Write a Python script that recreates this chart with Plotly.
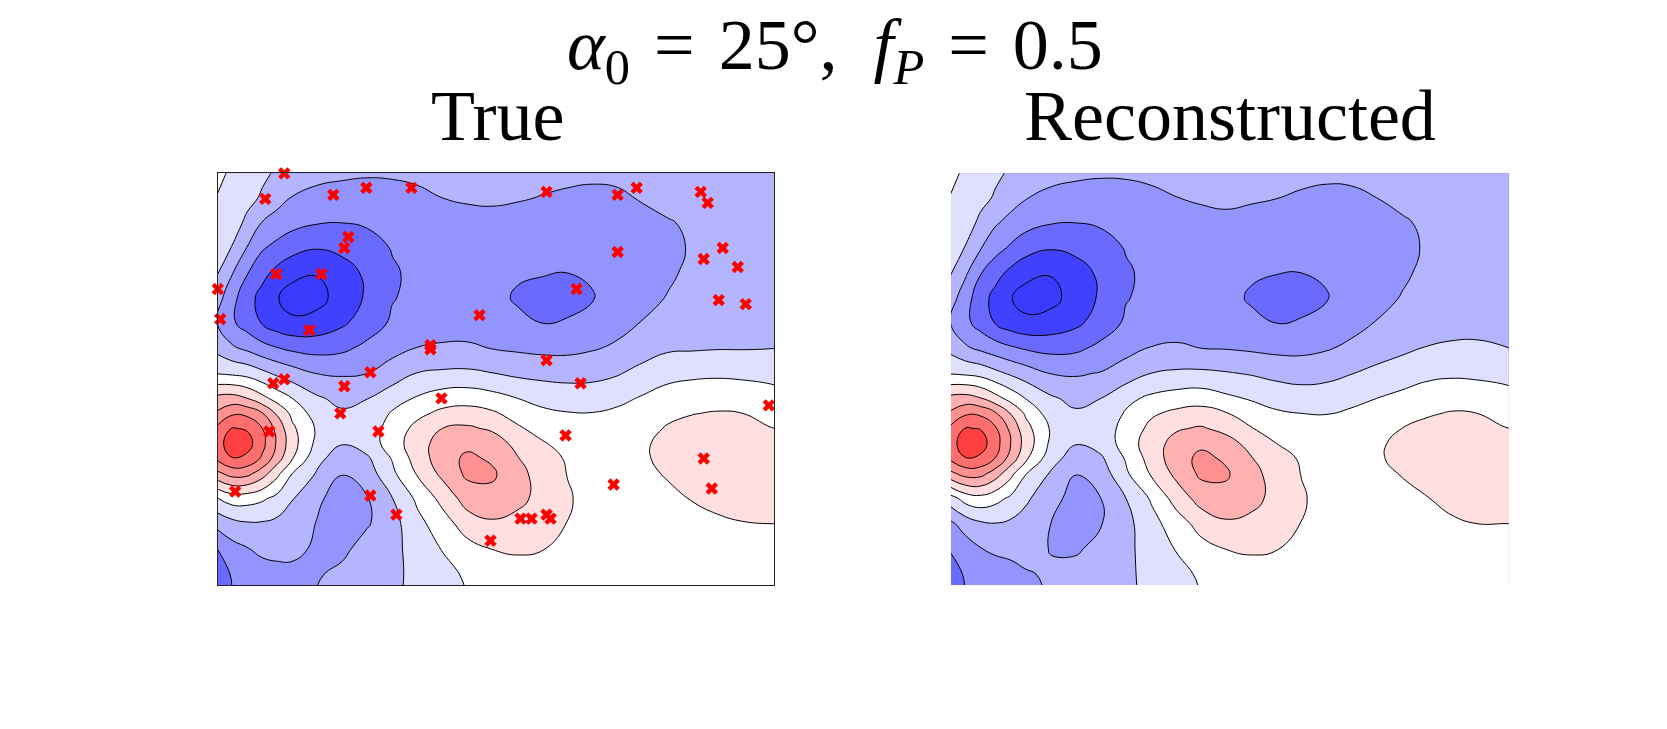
import plotly.graph_objects as go

# grid nodes, same for both panels (finer around the red spot on the left)
x_nodes = [0, 15, 30, 45, 60, 75, 100, 125, 150, 175, 200, 225, 250, 275, 300, 325, 350, 375, 400, 425, 450, 475, 500, 525, 550, 557]
y_nodes = [0, 25, 50, 75, 100, 125, 150, 175, 200, 225, 240, 255, 270, 285, 300, 325, 350, 375, 400, 412]

# field values, in units of one contour step
z_true = [
    [0.3, -0.2, -0.55, -0.85, -1.1, -1.3, -1.6, -1.75, -1.85, -1.82, -1.75, -1.65, -1.55, -1.5, -1.55, -1.65, -1.7, -1.75, -1.72, -1.6, -1.5, -1.42, -1.35, -1.3, -1.25, -1.25],
    [-0.05, -0.4, -0.75, -1.1, -1.65, -2.05, -2.4, -2.55, -2.6, -2.5, -2.25, -2.0, -1.85, -1.8, -1.9, -2.05, -2.2, -2.3, -2.2, -1.9, -1.6, -1.5, -1.45, -1.4, -1.35, -1.35],
    [-0.2, -0.6, -1.2, -2.05, -2.4, -2.7, -2.95, -3.0, -2.9, -2.75, -2.65, -2.55, -2.45, -2.4, -2.5, -2.6, -2.65, -2.65, -2.55, -2.35, -2.1, -1.8, -1.6, -1.5, -1.45, -1.45],
    [-0.55, -1.05, -2.05, -2.9, -3.3, -3.65, -3.95, -3.75, -3.35, -2.95, -2.7, -2.6, -2.55, -2.6, -2.75, -2.85, -2.9, -2.85, -2.7, -2.5, -2.25, -1.9, -1.6, -1.5, -1.45, -1.45],
    [-0.95, -1.95, -2.95, -3.7, -4.3, -4.75, -4.95, -4.45, -3.8, -3.1, -2.8, -2.65, -2.6, -2.7, -2.9, -2.95, -3.0, -2.9, -2.7, -2.45, -2.15, -1.8, -1.6, -1.5, -1.45, -1.45],
    [-1.6, -2.7, -3.6, -4.35, -4.95, -5.4, -5.3, -4.6, -3.85, -3.05, -2.75, -2.6, -2.6, -2.75, -3.1, -3.3, -3.35, -3.05, -2.6, -2.3, -1.95, -1.65, -1.5, -1.45, -1.4, -1.4],
    [-2.0, -2.85, -3.45, -4.05, -4.55, -4.8, -4.65, -4.15, -3.5, -2.85, -2.6, -2.5, -2.45, -2.55, -2.8, -3.0, -2.9, -2.6, -2.3, -1.95, -1.65, -1.45, -1.35, -1.3, -1.25, -1.25],
    [-1.3, -1.85, -2.2, -2.65, -2.95, -3.2, -3.35, -3.2, -2.75, -2.3, -1.97, -1.85, -1.85, -2.03, -2.15, -2.25, -2.25, -2.08, -1.85, -1.45, -1.15, -1.1, -1.05, -1.05, -1.02, -1.0],
    [-0.05, -0.18, -0.35, -0.75, -1.2, -1.55, -2.03, -2.1, -2.0, -1.55, -0.97, -0.85, -0.82, -0.98, -1.2, -1.3, -1.35, -1.3, -1.08, -0.68, -0.28, -0.2, -0.15, -0.2, -0.27, -0.3],
    [2.3, 2.4, 2.0, 1.3, 0.6, 0.0, -0.86, -1.3, -1.02, -0.4, 0.1, 0.5, 0.6, 0.37, 0.0, -0.3, -0.45, -0.45, -0.25, 0.1, 0.37, 0.57, 0.6, 0.55, 0.4, 0.33],
    [3.15, 3.85, 3.75, 3.05, 1.85, 0.75, -0.5, -0.85, -0.7, 0.1, 0.75, 1.25, 1.4, 1.15, 0.6, 0.2, 0.05, 0.03, 0.2, 0.45, 0.75, 0.97, 1.07, 1.0, 0.75, 0.65],
    [4.2, 5.05, 4.9, 4.0, 2.65, 1.2, -0.15, -0.75, -0.55, 0.4, 1.3, 2.0, 2.15, 1.85, 1.15, 0.6, 0.3, 0.25, 0.35, 0.6, 1.1, 1.3, 1.35, 1.25, 1.05, 1.0],
    [4.55, 5.6, 5.4, 4.3, 2.85, 1.4, -0.3, -0.95, -0.5, 0.45, 1.65, 2.35, 2.75, 2.5, 1.7, 1.1, 0.6, 0.4, 0.45, 0.85, 1.3, 1.5, 1.5, 1.4, 1.2, 1.15],
    [4.2, 4.95, 4.75, 3.85, 2.45, 1.05, -0.75, -1.5, -1.15, 0.07, 1.45, 2.55, 3.2, 2.85, 2.05, 1.4, 0.9, 0.6, 0.55, 0.85, 1.3, 1.45, 1.5, 1.4, 1.25, 1.2],
    [2.75, 3.4, 3.3, 2.45, 1.25, 0.0, -1.1, -1.97, -1.5, -0.2, 1.1, 2.25, 3.2, 3.15, 2.3, 1.6, 0.97, 0.65, 0.55, 0.75, 1.1, 1.35, 1.45, 1.4, 1.25, 1.2],
    [-0.1, 0.45, 0.4, 0.15, -0.3, -0.95, -1.85, -2.4, -2.05, -1.02, 0.2, 1.3, 2.45, 2.7, 2.25, 1.7, 1.1, 0.65, 0.5, 0.55, 0.75, 1.05, 1.25, 1.3, 1.2, 1.18],
    [-1.7, -1.3, -1.1, -1.1, -1.25, -1.45, -2.05, -2.55, -2.1, -1.35, -0.3, 0.55, 1.5, 1.85, 1.7, 1.45, 0.98, 0.6, 0.45, 0.4, 0.5, 0.7, 0.85, 0.97, 1.0, 1.0],
    [-3.0, -2.35, -2.05, -1.75, -1.65, -1.6, -2.25, -2.25, -1.55, -1.25, -0.63, 0.05, 0.65, 1.02, 1.1, 1.03, 0.75, 0.5, 0.35, 0.3, 0.35, 0.45, 0.55, 0.65, 0.7, 0.7],
    [-3.55, -2.9, -2.65, -2.45, -2.35, -2.4, -2.1, -1.75, -1.4, -1.25, -0.7, -0.3, 0.15, 0.55, 0.7, 0.65, 0.5, 0.35, 0.25, 0.2, 0.2, 0.25, 0.3, 0.35, 0.4, 0.4],
    [-3.8, -2.98, -2.7, -2.5, -2.4, -2.25, -2.0, -1.65, -1.35, -1.15, -0.8, -0.35, 0.05, 0.4, 0.55, 0.5, 0.4, 0.3, 0.2, 0.15, 0.15, 0.2, 0.25, 0.3, 0.3, 0.3],
]

z_recon = [
    [0.3, -0.2, -0.55, -0.85, -1.1, -1.3, -1.55, -1.72, -1.83, -1.82, -1.75, -1.65, -1.55, -1.5, -1.5, -1.6, -1.7, -1.75, -1.72, -1.62, -1.5, -1.42, -1.35, -1.3, -1.25, -1.25],
    [-0.05, -0.4, -0.75, -1.1, -1.6, -1.95, -2.35, -2.55, -2.6, -2.5, -2.25, -2.02, -1.85, -1.75, -1.85, -1.98, -2.15, -2.3, -2.25, -2.0, -1.7, -1.5, -1.45, -1.4, -1.35, -1.35],
    [-0.2, -0.6, -1.2, -1.9, -2.3, -2.65, -2.95, -3.0, -2.9, -2.75, -2.65, -2.55, -2.4, -2.3, -2.45, -2.55, -2.65, -2.65, -2.55, -2.35, -2.15, -1.8, -1.6, -1.5, -1.45, -1.45],
    [-0.55, -1.05, -1.95, -2.65, -3.15, -3.6, -3.93, -3.75, -3.35, -2.95, -2.7, -2.6, -2.5, -2.55, -2.7, -2.85, -2.9, -2.85, -2.7, -2.5, -2.25, -1.9, -1.6, -1.5, -1.45, -1.45],
    [-0.95, -1.85, -2.95, -3.65, -4.25, -4.72, -4.95, -4.45, -3.8, -3.1, -2.8, -2.65, -2.6, -2.7, -2.9, -2.98, -3.0, -2.9, -2.7, -2.45, -2.15, -1.8, -1.6, -1.5, -1.45, -1.45],
    [-1.55, -2.6, -3.55, -4.35, -4.95, -5.4, -5.3, -4.6, -3.85, -3.05, -2.75, -2.6, -2.6, -2.75, -3.1, -3.3, -3.35, -3.05, -2.6, -2.3, -1.95, -1.65, -1.5, -1.45, -1.4, -1.4],
    [-2.0, -2.75, -3.4, -4.05, -4.5, -4.75, -4.6, -4.2, -3.55, -2.85, -2.6, -2.5, -2.45, -2.55, -2.8, -3.0, -2.9, -2.6, -2.3, -1.95, -1.65, -1.45, -1.35, -1.3, -1.25, -1.25],
    [-1.3, -1.85, -2.2, -2.55, -2.85, -3.1, -3.3, -3.2, -2.75, -2.3, -1.95, -1.85, -2.0, -2.05, -2.15, -2.25, -2.25, -2.08, -1.8, -1.55, -1.2, -0.95, -0.85, -0.85, -0.97, -1.0],
    [-0.07, -0.18, -0.35, -0.75, -1.15, -1.5, -2.03, -2.1, -1.95, -1.55, -1.0, -0.85, -0.82, -0.93, -1.08, -1.3, -1.4, -1.3, -1.03, -0.7, -0.5, -0.23, -0.15, -0.2, -0.27, -0.3],
    [2.3, 2.4, 2.05, 1.35, 0.65, -0.03, -0.85, -1.3, -1.0, -0.25, 0.2, 0.45, 0.55, 0.2, -0.1, -0.35, -0.52, -0.47, -0.25, 0.0, 0.25, 0.48, 0.6, 0.55, 0.37, 0.3],
    [3.15, 3.85, 3.8, 3.1, 1.95, 0.85, -0.5, -0.85, -0.72, 0.1, 0.85, 1.23, 1.4, 1.05, 0.5, 0.12, 0.0, -0.02, 0.15, 0.35, 0.65, 0.9, 1.07, 1.0, 0.75, 0.65],
    [4.2, 5.05, 4.95, 4.1, 2.75, 1.35, -0.1, -0.75, -0.55, 0.35, 1.25, 1.9, 2.1, 1.7, 1.05, 0.5, 0.25, 0.15, 0.3, 0.6, 1.0, 1.25, 1.35, 1.3, 1.05, 1.0],
    [4.55, 5.6, 5.45, 4.4, 3.0, 1.6, -0.2, -0.95, -0.6, 0.4, 1.6, 2.3, 2.8, 2.4, 1.65, 1.0, 0.55, 0.35, 0.4, 0.8, 1.3, 1.45, 1.5, 1.45, 1.25, 1.2],
    [4.2, 4.95, 4.8, 3.95, 2.6, 1.2, -0.6, -1.5, -1.15, 0.1, 1.4, 2.55, 3.25, 2.85, 2.05, 1.35, 0.9, 0.55, 0.5, 0.85, 1.3, 1.45, 1.5, 1.45, 1.3, 1.25],
    [2.75, 3.4, 3.35, 2.5, 1.3, 0.05, -1.1, -1.97, -1.55, -0.15, 1.1, 2.25, 3.2, 3.12, 2.3, 1.6, 0.97, 0.6, 0.5, 0.7, 1.05, 1.3, 1.45, 1.45, 1.3, 1.25],
    [-0.45, 0.4, 0.65, 0.3, -0.2, -0.85, -1.6, -2.45, -2.0, -1.0, 0.1, 1.4, 2.4, 2.7, 2.35, 1.65, 1.1, 0.65, 0.5, 0.55, 0.75, 0.97, 1.2, 1.3, 1.25, 1.2],
    [-2.2, -1.55, -1.15, -1.03, -1.17, -1.35, -2.0, -2.45, -2.05, -1.3, -0.35, 0.5, 1.4, 1.85, 1.7, 1.45, 0.98, 0.6, 0.45, 0.4, 0.5, 0.7, 0.9, 1.0, 1.0, 1.0],
    [-2.9, -2.5, -2.03, -1.85, -1.75, -1.55, -2.05, -2.15, -1.65, -1.25, -0.55, 0.05, 0.65, 1.02, 1.1, 1.03, 0.75, 0.5, 0.35, 0.3, 0.35, 0.45, 0.55, 0.65, 0.7, 0.7],
    [-3.55, -2.85, -2.55, -2.4, -2.3, -2.1, -1.85, -1.6, -1.4, -1.2, -0.7, -0.3, 0.15, 0.55, 0.7, 0.65, 0.5, 0.35, 0.25, 0.2, 0.2, 0.25, 0.3, 0.35, 0.4, 0.4],
    [-3.8, -2.95, -2.65, -2.5, -2.35, -2.2, -1.9, -1.55, -1.35, -1.15, -0.8, -0.35, 0.05, 0.4, 0.55, 0.5, 0.4, 0.3, 0.2, 0.15, 0.15, 0.2, 0.25, 0.3, 0.3, 0.3],
]

# observation points on the True panel
cross_x = [67, 48, 116, 149, 194, 131, 127, 59, 104, 0.6, 3, 92, 213, 213, 153, 67, 56, 127, 123, 52, 161, 18, 153, 179, 224,
           329, 400, 419, 483, 490, 400, 505, 486, 520, 501, 528, 359, 262, 329, 363, 348, 396, 486, 494, 303, 314, 329, 333, 273, 551]
cross_y = [0.6, 26, 22, 15, 15, 64, 75, 101, 101, 116, 146, 157, 172, 176, 199, 206, 210, 213, 240, 258, 258, 318, 322, 341, 225,
           19, 22, 15, 19, 30, 79, 75, 86, 94, 127, 131, 116, 142, 187, 210, 262, 311, 285, 315, 345, 345, 341, 345, 367, 232]

band_colors = ["#3a3aff", "#4040ff", "#6a6aff", "#9494ff", "#b4b4ff", "#dfdfff",
               "#ffffff", "#ffdfdf", "#ffb0b0", "#ff9090", "#ff6e6e", "#ff4040"]

# stepped colorscale, one colour per contour band
scale = []
for i, c in enumerate(band_colors):
    scale.append([i / len(band_colors), c])
    scale.append([(i + 1) / len(band_colors), c])

FIG_W, FIG_H = 1651, 713  # page has 8px body margin
OFF = 8


def px_x(v):
    return (v - OFF) / FIG_W


def px_y(v):
    return 1 - (v - OFF) / FIG_H


def contour(z, xa, ya):
    return go.Contour(x=x_nodes, y=y_nodes, z=z, xaxis=xa, yaxis=ya,
                      colorscale=scale, zmin=-6, zmax=6, showscale=False,
                      contours=dict(start=-5, end=5, size=1, coloring="fill"),
                      line=dict(color="black", width=1, smoothing=1.3),
                      hoverinfo="skip")


fig = go.Figure()
fig.add_trace(contour(z_true, "x", "y"))
fig.add_trace(go.Scatter(x=cross_x, y=cross_y, mode="markers", xaxis="x", yaxis="y",
                         marker=dict(symbol="x", size=11, color="#ff0000"),
                         cliponaxis=False, showlegend=False))
fig.add_trace(contour(z_recon, "x2", "y2"))

blank = dict(showticklabels=False, ticks="", showgrid=False, zeroline=False)
framed = dict(showline=True, linecolor="#222222", linewidth=1, mirror=True)
# white line on the right panel hides the pale fill edge
unframed = dict(showline=True, linecolor="white", linewidth=1, mirror=True)

# ranges sit just inside the grid so the fill edge stays out of view
fig.update_layout(
    width=FIG_W, height=FIG_H,
    margin=dict(l=0, r=0, t=0, b=0),
    paper_bgcolor="white", plot_bgcolor="white",
    showlegend=False,
    xaxis=dict(domain=[px_x(217.7), px_x(774.3)], range=[0.5, 556.5], **blank, **framed),
    yaxis=dict(domain=[px_y(585.3), px_y(173.3)], range=[411.5, 0.5], **blank, **framed),
    xaxis2=dict(domain=[px_x(951), px_x(1508.7)], range=[0.5, 556.5], anchor="y2", **blank, **unframed),
    yaxis2=dict(domain=[px_y(585.3), px_y(173.3)], range=[411.5, 0.5], anchor="x2", **blank, **unframed),
)

serif = "Liberation Serif"
fig.add_annotation(xref="paper", yref="paper", x=px_x(835), y=px_y(97), yanchor="bottom", xanchor="center",
                   showarrow=False, font=dict(family=serif, size=72, color="black"),
                   text="<i>α</i><sub>0</sub> \u200a=\u200a 25°,  <i>f</i><sub><i>P</i></sub> \u200a=\u200a 0.5")
fig.add_annotation(xref="paper", yref="paper", x=px_x(497.5), y=px_y(158), yanchor="bottom", xanchor="center",
                   showarrow=False, font=dict(family=serif, size=72, color="black"), text="True")
fig.add_annotation(xref="paper", yref="paper", x=px_x(1230), y=px_y(158), yanchor="bottom", xanchor="center",
                   showarrow=False, font=dict(family=serif, size=72, color="black"), text="Reconstructed")

fig.write_html("out.html")
